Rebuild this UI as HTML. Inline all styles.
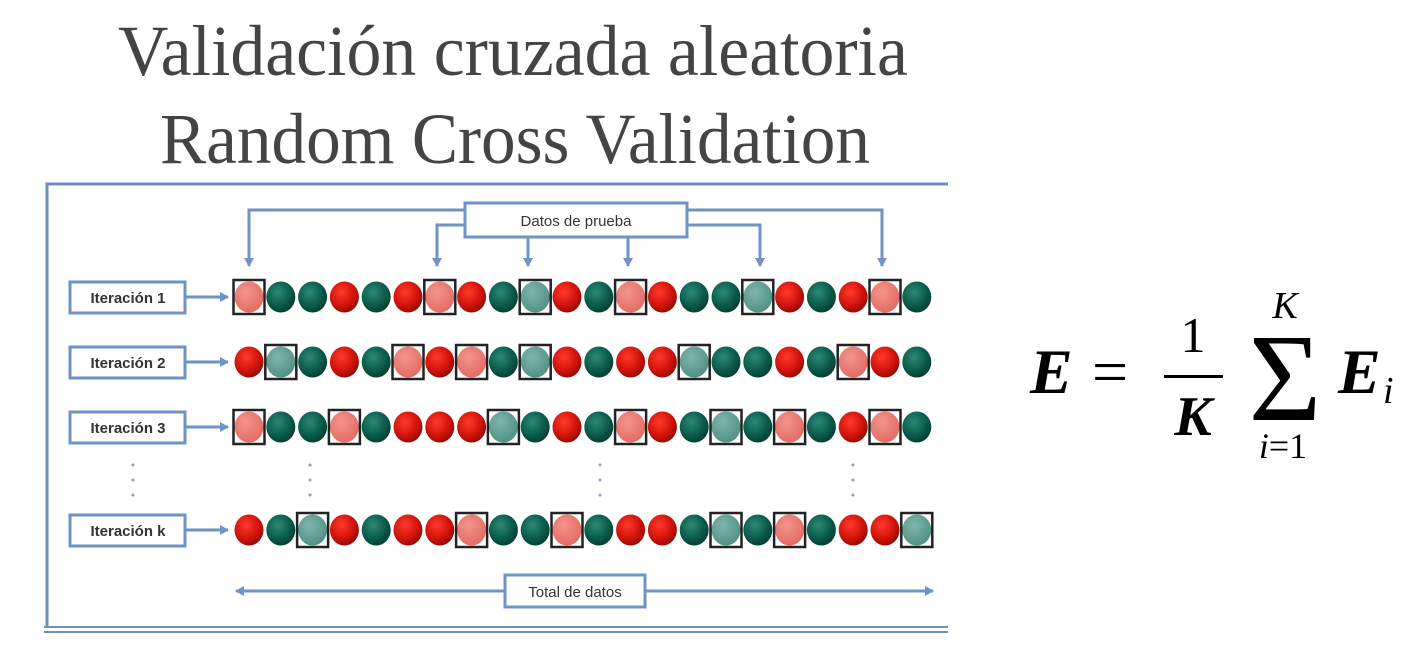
<!DOCTYPE html>
<html><head><meta charset="utf-8"><style>html,body{margin:0;padding:0;background:#fff}svg{display:block}</style></head>
<body>
<svg width="1414" height="664" viewBox="0 0 1414 664" xmlns="http://www.w3.org/2000/svg" xmlns:xlink="http://www.w3.org/1999/xlink">
<defs>
<radialGradient id="gr" cx="0.4" cy="0.35" r="0.7"><stop offset="0" stop-color="#ff3a2a"/><stop offset="0.6" stop-color="#d3140c"/><stop offset="1" stop-color="#8a0a05"/></radialGradient>
<radialGradient id="gg" cx="0.4" cy="0.35" r="0.7"><stop offset="0" stop-color="#2a8a76"/><stop offset="0.6" stop-color="#0b5c4b"/><stop offset="1" stop-color="#053a2f"/></radialGradient>
<radialGradient id="lr" cx="0.4" cy="0.35" r="0.7"><stop offset="0" stop-color="#f5948c"/><stop offset="1" stop-color="#e06a62"/></radialGradient>
<radialGradient id="lg" cx="0.4" cy="0.35" r="0.7"><stop offset="0" stop-color="#7fb5aa"/><stop offset="1" stop-color="#4f8f83"/></radialGradient>
<marker id="ah" markerWidth="10" markerHeight="10" refX="8" refY="5" orient="auto" markerUnits="userSpaceOnUse"><path d="M0,0 L9,5 L0,10 Z" fill="#6f93c4"/></marker>
<g id="a"><ellipse cx="0" cy="0" rx="14.5" ry="15.5" fill="url(#gr)"/></g>
<g id="b"><ellipse cx="0" cy="0" rx="14.5" ry="15.5" fill="url(#gg)"/></g>
<g id="c"><ellipse cx="0" cy="0" rx="14.5" ry="15.5" fill="url(#lr)"/><rect x="-15.5" y="-17" width="31" height="34" fill="none" stroke="#222" stroke-width="2.5"/></g>
<g id="d"><ellipse cx="0" cy="0" rx="14.5" ry="15.5" fill="url(#lg)"/><rect x="-15.5" y="-17" width="31" height="34" fill="none" stroke="#222" stroke-width="2.5"/></g>
</defs>
<g font-family="Liberation Serif, serif" fill="#444">
<text x="513" y="75" font-size="72" text-anchor="middle" textLength="790" lengthAdjust="spacingAndGlyphs">Validación cruzada aleatoria</text>
<text x="515" y="163" font-size="72" text-anchor="middle" textLength="710" lengthAdjust="spacingAndGlyphs">Random Cross Validation</text>
</g>
<g stroke="#6f8fc0" stroke-width="3" fill="none">
<polyline points="47,628 47,184 948,184"/>
<line x1="44" y1="627" x2="948" y2="627" stroke-width="2"/>
<line x1="44" y1="632" x2="948" y2="632" stroke-width="2"/>
</g>
<g stroke="#6f93c4" stroke-width="3" fill="none">
<polyline points="465,210 249,210 249,266" marker-end="url(#ah)"/>
<polyline points="687,210 882,210 882,266" marker-end="url(#ah)"/>
<polyline points="465,225 437,225 437,266" marker-end="url(#ah)"/>
<polyline points="687,225 760,225 760,266" marker-end="url(#ah)"/>
<line x1="528" y1="238" x2="528" y2="266" marker-end="url(#ah)"/>
<line x1="628" y1="238" x2="628" y2="266" marker-end="url(#ah)"/>
<line x1="185" y1="297" x2="228" y2="297" marker-end="url(#ah)"/>
<line x1="185" y1="362" x2="228" y2="362" marker-end="url(#ah)"/>
<line x1="185" y1="427" x2="228" y2="427" marker-end="url(#ah)"/>
<line x1="185" y1="530" x2="228" y2="530" marker-end="url(#ah)"/>
<line x1="505" y1="591" x2="236" y2="591" marker-end="url(#ah)"/>
<line x1="645" y1="591" x2="933" y2="591" marker-end="url(#ah)"/>
</g>
<g fill="#fff" stroke="#6f93c4" stroke-width="3">
<rect x="465" y="203" width="222" height="34"/>
<rect x="70" y="282" width="115" height="31"/>
<rect x="70" y="347" width="115" height="31"/>
<rect x="70" y="412" width="115" height="31"/>
<rect x="70" y="515" width="115" height="31"/>
<rect x="505" y="575" width="140" height="32"/>
</g>
<g font-family="Liberation Sans, sans-serif" font-size="15" fill="#333" text-anchor="middle">
<text x="576" y="226">Datos de prueba</text>
<text x="128" y="303" font-weight="bold">Iteración 1</text>
<text x="128" y="368" font-weight="bold">Iteración 2</text>
<text x="128" y="433" font-weight="bold">Iteración 3</text>
<text x="128" y="536" font-weight="bold">Iteración k</text>
<text x="575" y="597">Total de datos</text>
</g>
<g fill="#8aa0c0">
<circle cx="133" cy="465" r="1.5"/><circle cx="133" cy="480" r="1.5"/><circle cx="133" cy="495" r="1.5"/>
<circle cx="310" cy="465" r="1.5"/><circle cx="310" cy="480" r="1.5"/><circle cx="310" cy="495" r="1.5"/>
<circle cx="600" cy="465" r="1.5"/><circle cx="600" cy="480" r="1.5"/><circle cx="600" cy="495" r="1.5"/>
<circle cx="853" cy="465" r="1.5"/><circle cx="853" cy="480" r="1.5"/><circle cx="853" cy="495" r="1.5"/>
</g>
<!-- Row 1: c b b a b a c a b d a b c a b b d a b a c b -->
<g transform="translate(0,297)">
<use href="#c" xlink:href="#c" x="249"/><use href="#b" xlink:href="#b" x="280.8"/><use href="#b" xlink:href="#b" x="312.6"/><use href="#a" xlink:href="#a" x="344.4"/><use href="#b" xlink:href="#b" x="376.2"/><use href="#a" xlink:href="#a" x="408"/><use href="#c" xlink:href="#c" x="439.8"/><use href="#a" xlink:href="#a" x="471.6"/><use href="#b" xlink:href="#b" x="503.4"/><use href="#d" xlink:href="#d" x="535.2"/><use href="#a" xlink:href="#a" x="567"/><use href="#b" xlink:href="#b" x="598.8"/><use href="#c" xlink:href="#c" x="630.6"/><use href="#a" xlink:href="#a" x="662.4"/><use href="#b" xlink:href="#b" x="694.2"/><use href="#b" xlink:href="#b" x="726"/><use href="#d" xlink:href="#d" x="757.8"/><use href="#a" xlink:href="#a" x="789.6"/><use href="#b" xlink:href="#b" x="821.4"/><use href="#a" xlink:href="#a" x="853.2"/><use href="#c" xlink:href="#c" x="885"/><use href="#b" xlink:href="#b" x="916.8"/>
</g>
<!-- Row 2: a d b a b c a c b d a b a a d b b a b c a b -->
<g transform="translate(0,362)">
<use href="#a" xlink:href="#a" x="249"/><use href="#d" xlink:href="#d" x="280.8"/><use href="#b" xlink:href="#b" x="312.6"/><use href="#a" xlink:href="#a" x="344.4"/><use href="#b" xlink:href="#b" x="376.2"/><use href="#c" xlink:href="#c" x="408"/><use href="#a" xlink:href="#a" x="439.8"/><use href="#c" xlink:href="#c" x="471.6"/><use href="#b" xlink:href="#b" x="503.4"/><use href="#d" xlink:href="#d" x="535.2"/><use href="#a" xlink:href="#a" x="567"/><use href="#b" xlink:href="#b" x="598.8"/><use href="#a" xlink:href="#a" x="630.6"/><use href="#a" xlink:href="#a" x="662.4"/><use href="#d" xlink:href="#d" x="694.2"/><use href="#b" xlink:href="#b" x="726"/><use href="#b" xlink:href="#b" x="757.8"/><use href="#a" xlink:href="#a" x="789.6"/><use href="#b" xlink:href="#b" x="821.4"/><use href="#c" xlink:href="#c" x="853.2"/><use href="#a" xlink:href="#a" x="885"/><use href="#b" xlink:href="#b" x="916.8"/>
</g>
<!-- Row 3: c b b c b a a a d b a b c a b d b c b a c b -->
<g transform="translate(0,427)">
<use href="#c" xlink:href="#c" x="249"/><use href="#b" xlink:href="#b" x="280.8"/><use href="#b" xlink:href="#b" x="312.6"/><use href="#c" xlink:href="#c" x="344.4"/><use href="#b" xlink:href="#b" x="376.2"/><use href="#a" xlink:href="#a" x="408"/><use href="#a" xlink:href="#a" x="439.8"/><use href="#a" xlink:href="#a" x="471.6"/><use href="#d" xlink:href="#d" x="503.4"/><use href="#b" xlink:href="#b" x="535.2"/><use href="#a" xlink:href="#a" x="567"/><use href="#b" xlink:href="#b" x="598.8"/><use href="#c" xlink:href="#c" x="630.6"/><use href="#a" xlink:href="#a" x="662.4"/><use href="#b" xlink:href="#b" x="694.2"/><use href="#d" xlink:href="#d" x="726"/><use href="#b" xlink:href="#b" x="757.8"/><use href="#c" xlink:href="#c" x="789.6"/><use href="#b" xlink:href="#b" x="821.4"/><use href="#a" xlink:href="#a" x="853.2"/><use href="#c" xlink:href="#c" x="885"/><use href="#b" xlink:href="#b" x="916.8"/>
</g>
<!-- Row k: a b d a b a a c b b c b a a b d b c b a a d -->
<g transform="translate(0,530)">
<use href="#a" xlink:href="#a" x="249"/><use href="#b" xlink:href="#b" x="280.8"/><use href="#d" xlink:href="#d" x="312.6"/><use href="#a" xlink:href="#a" x="344.4"/><use href="#b" xlink:href="#b" x="376.2"/><use href="#a" xlink:href="#a" x="408"/><use href="#a" xlink:href="#a" x="439.8"/><use href="#c" xlink:href="#c" x="471.6"/><use href="#b" xlink:href="#b" x="503.4"/><use href="#b" xlink:href="#b" x="535.2"/><use href="#c" xlink:href="#c" x="567"/><use href="#b" xlink:href="#b" x="598.8"/><use href="#a" xlink:href="#a" x="630.6"/><use href="#a" xlink:href="#a" x="662.4"/><use href="#b" xlink:href="#b" x="694.2"/><use href="#d" xlink:href="#d" x="726"/><use href="#b" xlink:href="#b" x="757.8"/><use href="#c" xlink:href="#c" x="789.6"/><use href="#b" xlink:href="#b" x="821.4"/><use href="#a" xlink:href="#a" x="853.2"/><use href="#a" xlink:href="#a" x="885"/><use href="#d" xlink:href="#d" x="916.8"/>
</g>
<g font-family="Liberation Serif, serif" fill="#000">
<text x="1030" y="393" font-size="64" font-style="italic" font-weight="bold">E</text>
<text x="1092" y="393" font-size="64">=</text>
<text x="1193" y="352" font-size="50" text-anchor="middle">1</text>
<rect x="1164" y="375" width="59" height="3"/>
<text x="1193" y="435" font-size="56" font-style="italic" font-weight="bold" text-anchor="middle">K</text>
<text x="1285" y="420" font-size="125" text-anchor="middle">Σ</text>
<text x="1285" y="318" font-size="38" font-style="italic" text-anchor="middle">K</text>
<text x="1283" y="458" font-size="36" text-anchor="middle"><tspan font-style="italic">i</tspan>=1</text>
<text x="1338" y="393" font-size="64" font-style="italic" font-weight="bold">E</text>
<text x="1383" y="403" font-size="38" font-style="italic">i</text>
</g>
</svg>
</body></html>
